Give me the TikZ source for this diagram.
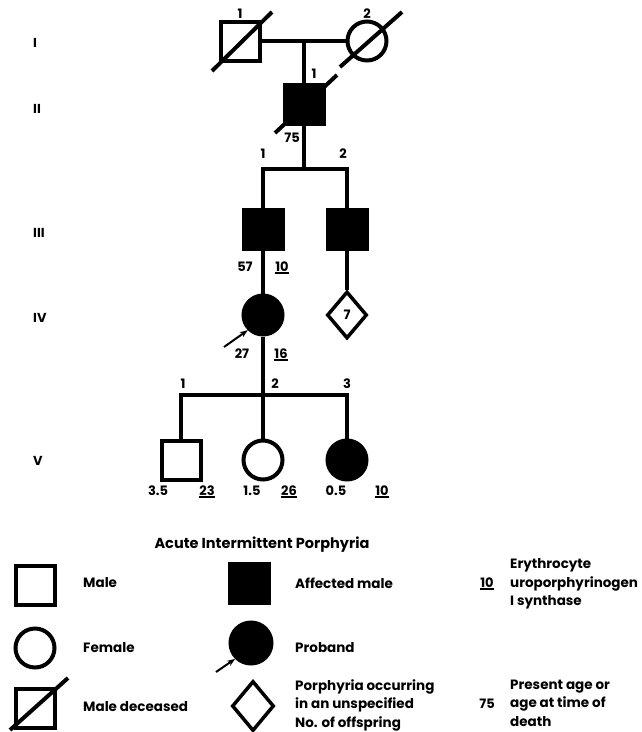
\documentclass[tikz,border=0pt]{standalone}
\usepackage{fontspec}
\setmainfont{Poppins}
\usetikzlibrary{shapes.geometric,arrows.meta}

\newcommand{\enzval}[1]{\vtop{\hbox{#1}\kern1.2pt\hrule height 2pt}}

\tikzset{
  person/.style={draw, line width=4pt, minimum size=39pt, inner sep=0pt},
  male/.style={person, rectangle},
  female/.style={person, circle},
  several/.style={person, diamond, minimum width=40pt, minimum height=47pt, line width=3.5pt, font=\fontsize{13}{16}\selectfont\bfseries},
  affected/.style={fill=black},
  link/.style={line width=4pt},
  slash/.style={line width=4pt},
  txt/.style={font=\fontsize{13}{16}\selectfont\bfseries, inner sep=0pt, anchor=base},
  keytxt/.style={font=\fontsize{13.5}{18.5}\selectfont\bfseries, inner sep=0pt, anchor=west, align=left},
}

\begin{document}
\begin{tikzpicture}[x=1pt, y=-1pt, >={Stealth[length=8pt,width=6pt]}]

    \useasboundingbox (0,0) rectangle (641,732);

    % generations
    \node[txt, anchor=base west] (gI) at (33,47) {I};
    \node[txt, anchor=base west] (gII) at (33,113) {II};
    \node[txt, anchor=base west] (gIII) at (33,237) {III};
    \node[txt, anchor=base west] (gIV) at (33,322) {IV};
    \node[txt, anchor=base west] (gV) at (33,465) {V};

    \node[male] (I1) at (240,41) {};
    \node[female] (I2) at (367,41) {};
    \node[txt] (nI1) at (240,18) {1};
    \node[txt] (nI2) at (367,18) {2};
    \draw[slash] ([shift={(-28,30)}]I1.center) -- ([shift={(32,-29)}]I1.center);
    \draw[slash] ([shift={(-27,26)}]I2.center) -- ([shift={(35,-29)}]I2.center);
    \draw[link] (I1.east) -- (I2.west);

    \node[male, affected] (II1) at (304,104) {};
    \node[txt] (nII1) at (314,78) {1};
    \node[txt] (aII1) at (292,142) {75};
    \draw[slash] ([shift={(-29,29)}]II1.center) -- ([shift={(33,-29)}]II1.center);
    \draw[link] (II1.north) -- (II1.north |- I1.east);

    \coordinate (s3) at (304,169);
    \node[male, affected] (III1) at (263,229) {};
    \node[male, affected] (III2) at (347,229) {};
    \node[txt] (nIII1) at (263,158) {1};
    \node[txt] (nIII2) at (343,158) {2};
    \node[txt] (aIII1) at (245,271) {57};
    \node[txt] (eIII1) at (282,271) {\enzval{10}};
    \draw[link] (II1.south) -- (s3);
    \draw[link] (III1.north) -- (III1.north |- s3) -- (III2.north |- s3) -- (III2.north);

    \node[female, affected] (IV1) at (263,315) {};
    \node[several] (IV2) at (347,315) {7};
    \node[txt] (aIV1) at (242,358) {27};
    \node[txt] (eIV1) at (281,358) {\enzval{16}};
    \coordinate (pIV1) at (224,347);
    \draw[link] (III1.south) -- (IV1.north);
    \draw[link] (III2.south) -- (IV2.north);
    \draw[->, line width=2pt] (pIV1) -- (IV1.225);

    \coordinate (s5) at (263,395);
    \node[male] (V1) at (181,460) {};
    \node[female] (V2) at (263,460) {};
    \node[female, affected] (V3) at (347,460) {};
    \node[txt] (nV1) at (183,388) {1};
    \node[txt] (nV2) at (275,388) {2};
    \node[txt] (nV3) at (347,388) {3};
    \draw[link] (IV1.south) -- (s5);
    \draw[link] (V1.north) -- (V1.north |- s5) -- (V3.north |- s5) -- (V3.north);
    \draw[link] (s5) -- (V2.north);
    \node[txt] (aV1) at (158,495) {3.5};
    \node[txt] (eV1) at (207,495) {\enzval{23}};
    \node[txt] (aV2) at (252,495) {1.5};
    \node[txt] (eV2) at (289,495) {\enzval{26}};
    \node[txt] (aV3) at (336,495) {0.5};
    \node[txt] (eV3) at (382,495) {\enzval{10}};

    % key
    \node[txt, font=\fontsize{14.5}{16}\selectfont\bfseries] (title) at (262,548) {Acute Intermittent Porphyria};

    \node[male] (kmale) at (35,585) {};
    \node[female] (kfemale) at (35,648) {};
    \node[male] (kdead) at (35,708) {};
    \draw[slash] ([shift={(-25,22)}]kdead.center) -- ([shift={(33,-30)}]kdead.center);
    \node[keytxt] (tmale) at (83,583) {Male};
    \node[keytxt] (tfemale) at (83,648) {Female};
    \node[keytxt] (tdead) at (83,707) {Male deceased};

    \node[male, affected] (kaff) at (249,583) {};
    \node[female, affected, minimum size=41pt] (kprob) at (251,643) {};
    \coordinate (pkey) at (216,672);
    \draw[->, line width=2pt] (pkey) -- (kprob.225);
    \node[several, minimum width=42pt, minimum height=50pt] (kmany) at (253,706) {};
    \node[keytxt] (taff) at (295,583) {Affected male};
    \node[keytxt] (tprob) at (295,648) {Proband};
    \node[keytxt] (tmany) at (295,705) {Porphyria occurring\\in an unspecified\\No. of offspring};

    \node[txt] (kenz) at (487,587) {\enzval{10}};
    \node[txt] (kage) at (487,708) {75};
    \node[keytxt] (tenz) at (510,584) {Erythrocyte\\uroporphyrinogen\\I synthase};
    \node[keytxt] (tage) at (510,703) {Present age or\\age at time of\\death};
\end{tikzpicture}
\end{document}
